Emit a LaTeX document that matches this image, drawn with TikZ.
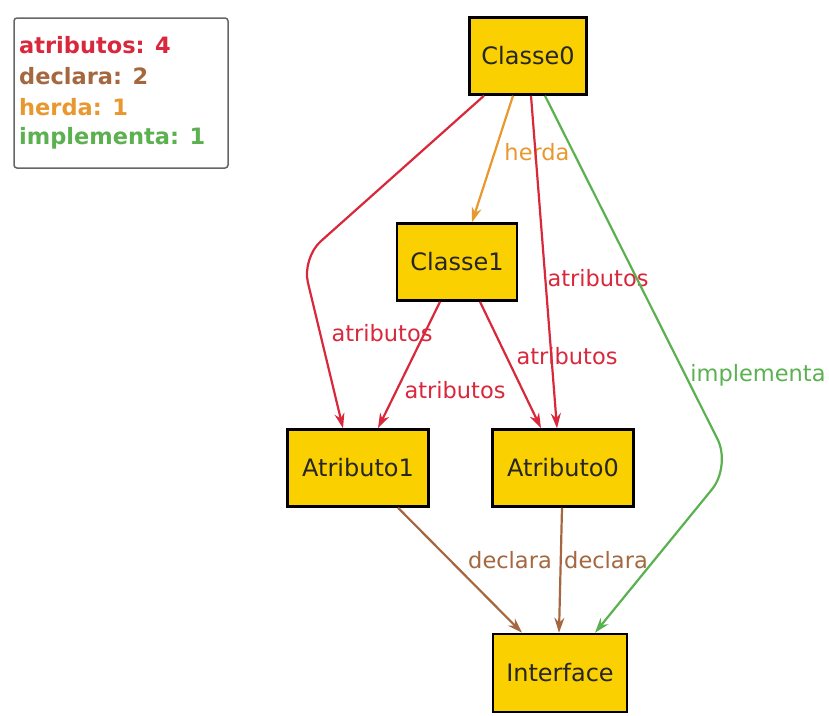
\documentclass[tikz,border=0pt]{standalone}
\usepackage{fontspec}
\setmainfont{DejaVu Sans}
\usetikzlibrary{arrows.meta}
\definecolor{cred}{HTML}{D9283C}
\definecolor{cbrown}{HTML}{A5673F}
\definecolor{corange}{HTML}{E8982E}
\definecolor{cgreen}{HTML}{5BB150}
\definecolor{cgold}{HTML}{FAD000}
\begin{document}
\begin{tikzpicture}[x=1pt,y=-1pt,
  box/.style={draw=black,line width=2.5pt,fill=cgold,inner sep=0pt,text=black!85,font=\fontsize{24}{28}\selectfont},
  edge/.style={line width=2.2pt,-{Stealth[length=15pt,width=10pt]}},
  lab/.style={font=\fontsize{22.5}{26}\selectfont,inner sep=1pt},
  leg/.style={font=\bfseries\fontsize{22.5}{26}\selectfont,anchor=west,inner sep=0pt}]
\useasboundingbox (0,0) rectangle (829,715);
\fill[white] (0,0) rectangle (829,715);
% legend
\draw[draw=black!60,line width=1.5pt,rounded corners=3pt] (14,18) rectangle (228,168);
\node[leg,text=cred] (l1) at (19,45) {atributos: 4};
\node[leg,text=cbrown] (l2) at (19,76) {declara: 2};
\node[leg,text=corange] (l3) at (19,107) {herda: 1};
\node[leg,text=cgreen] (l4) at (19,138) {implementa: 1};
% nodes
\node[box,minimum width=117pt,minimum height=77pt] (c0) at (528,56) {Classe0};
\node[box,minimum width=120pt,minimum height=77pt] (c1) at (457,262) {Classe1};
\node[box,minimum width=141pt,minimum height=77pt] (a1) at (358,468) {Atributo1};
\node[box,minimum width=141pt,minimum height=77pt] (a0) at (563,468) {Atributo0};
\node[box,minimum width=134pt,minimum height=78pt] (if) at (560,673) {Interface};
% edges
\draw[edge,corange] ([xshift=-15pt]c0.south) -- ([xshift=15pt]c1.north);
\node[lab,text=corange] (lh) at (537,152) {herda};
\draw[edge,cred,rounded corners=25pt] ([xshift=-44pt]c0.south) -- (302,258) -- ([xshift=-15pt]a1.north);
\node[lab,text=cred] (la1) at (382,333) {atributos};
\draw[edge,cred] ([xshift=-17pt]c1.south) -- ([xshift=20pt]a1.north);
\node[lab,text=cred] (la2) at (455,390) {atributos};
\draw[edge,cred] ([xshift=23pt]c1.south) -- ([xshift=-22pt]a0.north);
\node[lab,text=cred] (la3) at (567,356) {atributos};
\draw[edge,cred] ([xshift=3pt]c0.south) -- ([xshift=-6pt]a0.north);
\node[lab,text=cred] (la4) at (598,278) {atributos};
\draw[edge,cgreen,rounded corners=30pt] ([xshift=17pt]c0.south) -- (731,466) -- ([xshift=35pt]if.north);
\node[lab,text=cgreen] (li) at (758,375) {implementa};
\draw[edge,cbrown] ([xshift=40pt]a1.south) -- ([xshift=-38pt]if.north);
\node[lab,text=cbrown] (ld1) at (510,560) {declara};
\draw[edge,cbrown] ([xshift=-1pt]a0.south) -- ([xshift=-1pt]if.north);
\node[lab,text=cbrown] (ld2) at (606,560) {declara};
\end{tikzpicture}
\end{document}
